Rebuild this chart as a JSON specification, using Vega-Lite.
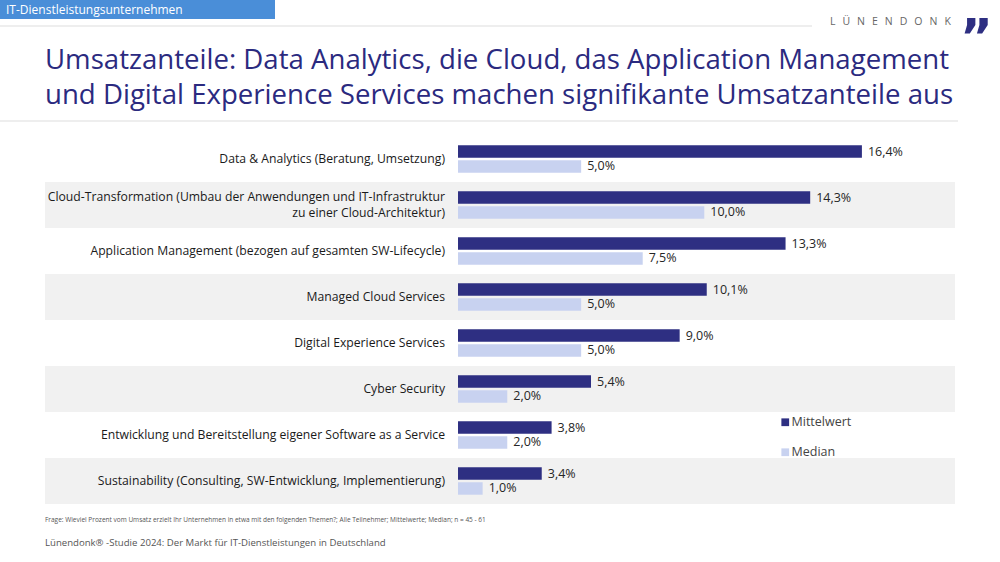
{
  "$schema": "https://vega.github.io/schema/vega-lite/v6.json",
  "width": 910,
  "height": 368,
  "autosize": {"type": "none"},
  "padding": {"left": 45, "top": 136, "right": 45, "bottom": 58},
  "background": "white",
  "config": {"view": {"stroke": null}, "font": "Open Sans"},
  "title": {
    "text": ["Umsatzanteile: Data Analytics, die Cloud, das Application Management", "und Digital Experience Services machen signifikante Umsatzanteile aus"],
    "anchor": "start",
    "frame": "group",
    "font": "Open Sans",
    "fontSize": 27.6,
    "fontWeight": "normal",
    "color": "#2b2a7f",
    "lineHeight": 35,
    "offset": -110
  },
  "datasets": {
    "themen": [
      {"thema": "Data & Analytics (Beratung, Umsetzung)", "nr": 1, "Mittelwert": 16.4, "Median": 5.0},
      {"thema": "Cloud-Transformation (Umbau der Anwendungen und IT-Infrastruktur\nzu einer Cloud-Architektur)", "nr": 2, "Mittelwert": 14.3, "Median": 10.0},
      {"thema": "Application Management (bezogen auf gesamten SW-Lifecycle)", "nr": 3, "Mittelwert": 13.3, "Median": 7.5},
      {"thema": "Managed Cloud Services", "nr": 4, "Mittelwert": 10.1, "Median": 5.0},
      {"thema": "Digital Experience Services", "nr": 5, "Mittelwert": 9.0, "Median": 5.0},
      {"thema": "Cyber Security", "nr": 6, "Mittelwert": 5.4, "Median": 2.0},
      {"thema": "Entwicklung und Bereitstellung eigener Software as a Service", "nr": 7, "Mittelwert": 3.8, "Median": 2.0},
      {"thema": "Sustainability (Consulting, SW-Entwicklung, Implementierung)", "nr": 8, "Mittelwert": 3.4, "Median": 1.0}
    ]
  },
  "data": {"name": "themen"},
  "layer": [
    {
      "transform": [{"filter": "datum.nr % 2 == 0"}],
      "mark": {"type": "rect", "color": "#f1f1f1"},
      "encoding": {
        "x": {"datum": -16.77, "type": "quantitative", "scale": {"domain": [-16.77, 20.18], "nice": false, "zero": false}, "axis": null},
        "x2": {"datum": 20.18},
        "y": {"field": "thema", "type": "nominal", "sort": {"field": "nr", "op": "min", "order": "ascending"}, "scale": {"paddingInner": 0, "paddingOuter": 0}, "axis": null}
      }
    },
    {
      "transform": [{"filter": "datum.nr != 2"}],
      "mark": {"type": "text", "align": "right", "baseline": "middle", "dx": -13, "fontSize": 12.2, "color": "#1a1a1a"},
      "encoding": {
        "x": {"datum": 0, "type": "quantitative"},
        "y": {"field": "thema", "type": "nominal", "sort": {"field": "nr", "op": "min", "order": "ascending"}},
        "text": {"field": "thema"}
      }
    },
    {
      "transform": [{"filter": "datum.nr == 2"}],
      "mark": {"type": "text", "align": "right", "baseline": "middle", "dx": -13, "dy": -8, "fontSize": 12.2, "color": "#1a1a1a", "lineBreak": "\n", "lineHeight": 16},
      "encoding": {
        "x": {"datum": 0, "type": "quantitative"},
        "y": {"field": "thema", "type": "nominal", "sort": {"field": "nr", "op": "min", "order": "ascending"}},
        "text": {"field": "thema"}
      }
    },
    {
      "transform": [{"fold": ["Mittelwert", "Median"], "as": ["serie", "wert"]}],
      "mark": {"type": "bar"},
      "encoding": {
        "x": {"field": "wert", "type": "quantitative", "stack": null},
        "y": {"field": "thema", "type": "nominal", "sort": {"field": "nr", "op": "min", "order": "ascending"}},
        "yOffset": {"field": "serie", "type": "nominal", "sort": ["Mittelwert", "Median"], "scale": {"paddingInner": 0.17, "paddingOuter": 0.62}},
        "color": {
          "field": "serie", "type": "nominal",
          "scale": {"domain": ["Mittelwert", "Median"], "range": ["#2e2f82", "#c8d2f0"]},
          "legend": {"orient": "none", "legendX": 734, "legendY": 280, "title": null, "symbolType": "square", "symbolSize": 60, "symbolStrokeWidth": 0, "labelFontSize": 12.5, "labelColor": "#444444", "labelFont": "Open Sans", "rowPadding": 17, "padding": 0, "labelOffset": 0}
        }
      }
    },
    {
      "transform": [
        {"fold": ["Mittelwert", "Median"], "as": ["serie", "wert"]},
        {"calculate": "replace(format(datum.wert, '.1f'), '.', ',') + '%'", "as": "beschriftung"}
      ],
      "mark": {"type": "text", "align": "left", "baseline": "middle", "dx": 6, "fontSize": 12.5, "color": "#262626"},
      "encoding": {
        "x": {"field": "wert", "type": "quantitative"},
        "y": {"field": "thema", "type": "nominal", "sort": {"field": "nr", "op": "min", "order": "ascending"}},
        "yOffset": {"field": "serie", "type": "nominal", "sort": ["Mittelwert", "Median"]},
        "text": {"field": "beschriftung"}
      }
    },
    {
      "data": {"values": [{}]},
      "mark": {"type": "rect", "color": "#4a8ed8"},
      "encoding": {"x": {"value": -45}, "x2": {"value": 230}, "y": {"value": -136}, "y2": {"value": -117}}
    },
    {
      "data": {"values": [{}]},
      "mark": {"type": "text", "align": "left", "baseline": "middle", "fontSize": 12, "color": "white", "text": "IT-Dienstleistungsunternehmen"},
      "encoding": {"x": {"value": -39}, "y": {"value": -126.5}}
    },
    {
      "data": {"values": [{}]},
      "mark": {"type": "rule", "color": "#dddddd", "strokeWidth": 1},
      "encoding": {"x": {"value": -45}, "x2": {"value": 767}, "y": {"value": -110}}
    },
    {
      "data": {"values": [{}]},
      "mark": {"type": "rule", "color": "#dddddd", "strokeWidth": 1},
      "encoding": {"x": {"value": -45}, "x2": {"value": 913}, "y": {"value": -15}}
    },
    {
      "data": {"values": [{}]},
      "mark": {"type": "text", "align": "left", "baseline": "middle", "fontSize": 10.5, "color": "#666666", "text": "L\u2002\u2009Ü\u2002\u2009N\u2002\u2009E\u2002\u2009N\u2002\u2009D\u2002\u2009O\u2002\u2009N\u2002\u2009K"},
      "encoding": {"x": {"value": 785}, "y": {"value": -114}}
    },
    {
      "data": {"values": [{}]},
      "mark": {"type": "text", "align": "left", "baseline": "alphabetic", "fontSize": 50, "font": "DejaVu Sans", "fontWeight": "bold", "color": "#2e2f82", "text": "”"},
      "encoding": {"x": {"value": 915}, "y": {"value": -82}}
    },
    {
      "data": {"values": [{}]},
      "mark": {"type": "text", "align": "left", "baseline": "middle", "fontSize": 6.5, "color": "#555555", "text": "Frage: Wieviel Prozent vom Umsatz erzielt Ihr Unternehmen in etwa mit den folgenden Themen?; Alle Teilnehmer; Mittelwerte; Median; n = 45 - 61"},
      "encoding": {"x": {"value": 0}, "y": {"value": 384}}
    },
    {
      "data": {"values": [{}]},
      "mark": {"type": "text", "align": "left", "baseline": "middle", "fontSize": 9.6, "color": "#555555", "text": "Lünendonk® -Studie 2024: Der Markt für IT-Dienstleistungen in Deutschland"},
      "encoding": {"x": {"value": 0}, "y": {"value": 407}}
    }
  ]
}
